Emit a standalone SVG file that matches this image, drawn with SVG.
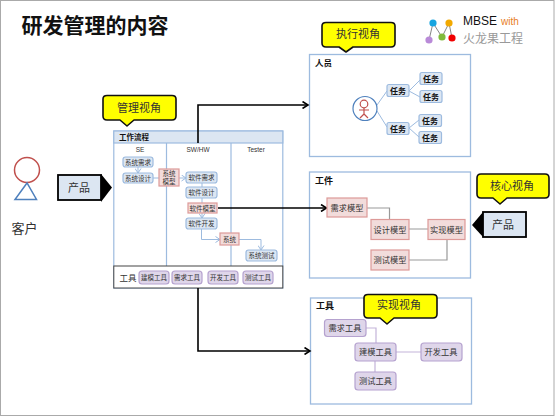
<svg xmlns="http://www.w3.org/2000/svg" width="555" height="417" viewBox="0 0 555 417">
<style>
text{font-family:"Liberation Sans","Noto Sans CJK SC",sans-serif;text-anchor:middle;fill:#333}
.l{text-anchor:start}
.panel{fill:#fff;stroke:#9dbbdf;stroke-width:1.3}
.call{fill:#ffff00;stroke:#111;stroke-width:1.6;stroke-linejoin:round}
.callt{font-size:11px}
.blue{fill:#dce6f2;stroke:#9dbbdf;stroke-width:1.2}
.red{fill:#f2dcdb;stroke:#dd9a98;stroke-width:1.2}
.pur{fill:#dfd6ea;stroke:#b5a2cf;stroke-width:1.2}
.s7{font-size:6.500px}
.s8{font-size:8px;font-weight:bold;fill:#111}
.s9{font-size:8.200px}
.prod{fill:#dce6f2;stroke:#000;stroke-width:1.8}
.big{stroke:#000;stroke-width:1.6;fill:none}
.thin{stroke:#9dbbdf;stroke-width:1;fill:none}
.gray{stroke:#999;stroke-width:1.2;fill:none}
.lil{stroke:#c3b4d9;stroke-width:1.2;fill:none}
</style>
<defs>
<marker id="a" markerWidth="8" markerHeight="8" refX="6.500" refY="4" orient="auto" markerUnits="userSpaceOnUse"><path d="M1 0.500L6.500 4L1 7.500" fill="none" stroke="#000" stroke-width="1.6"/></marker>
<marker id="t" markerWidth="7" markerHeight="7" refX="5" refY="3.500" orient="auto" markerUnits="userSpaceOnUse"><path d="M0.500 0.500L5 3.500L0.500 6.500" fill="none" stroke="#9dbbdf" stroke-width="1"/></marker>
</defs>
<rect x="0.500" y="0.500" width="553.500" height="415" fill="#fff" stroke="#aaa"/>
<g id="title"><text x="95" y="33" font-size="21" font-weight="bold" style="fill:#111">研发管理的内容</text></g>
<g id="logo">
<g stroke="#666" stroke-width="0.8"><path d="M433 23L429 40M433 23L442 37M449 23L442 37M449 23L452 38"/></g>
<circle cx="433" cy="23" r="3.600" fill="#18a5e0"/><circle cx="449" cy="23" r="3.600" fill="#f2a900"/><circle cx="429" cy="40" r="3.600" fill="#b98ad8"/><circle cx="442" cy="37" r="3.600" fill="#80bb3c"/><circle cx="452" cy="38" r="3.600" fill="#f00000"/>
<text class="l" x="463" y="25" font-size="12" style="fill:#111">MBSE</text>
<text class="l" x="501" y="25" font-size="10" style="fill:#e87d1e">with</text>
<text class="l" x="463" y="43" font-size="12" style="fill:#999">火龙果工程</text>
</g>
<g id="customer">
<circle cx="27" cy="170" r="12.500" fill="#fff" stroke="#c0504d" stroke-width="1.500"/>
<path d="M27 183L15 199.500H36.500Z" fill="#fff" stroke="#4f81bd" stroke-width="1.500"/>
<text x="24.500" y="233" font-size="13">客户</text>
</g>
<g id="product-left">
<rect class="prod" x="58" y="175" width="43" height="25"/><path d="M101 174L112 187.500L101 202Z" fill="#000"/>
<text x="79" y="192" font-size="11">产品</text>
</g>
<g id="product-right">
<path d="M483 212L472 225L483 237Z" fill="#000"/><rect class="prod" x="483" y="212" width="43" height="25"/>
<text x="503" y="229" font-size="11">产品</text>
</g>
<g id="panel-people">
<rect class="panel" x="309.500" y="54.500" width="161" height="102"/>
<text class="s8" x="323.500" y="66" style="font-size:8.500px">人员</text>
</g>
<g id="panel-artifact">
<rect class="panel" x="309.500" y="172" width="161" height="106"/>
<text x="324" y="184" font-size="9" font-weight="bold" style="fill:#111">工件</text>
</g>
<g id="panel-tool">
<rect class="panel" x="310.500" y="298" width="161" height="106"/>
<text x="325" y="309" font-size="9" font-weight="bold" style="fill:#111">工具</text>
</g>
<g id="swimlane">
<rect x="113.800" y="131" width="169" height="157" fill="#fff" stroke="#9dbbdf" stroke-width="1.200"/>
<rect x="113.800" y="131" width="169" height="12" fill="#dce6f2" stroke="#9dbbdf" stroke-width="1.200"/>
<path d="M166.500 143V266M231 143V266" stroke="#9dbbdf" stroke-width="1.200"/>
<rect x="113.800" y="266" width="169" height="22" fill="#fff" stroke="#444" stroke-width="1"/>
<text x="134" y="140" font-size="7.500" font-weight="bold" style="fill:#111">工作流程</text>
<text x="140" y="152" font-size="6.500">SE</text><text x="198" y="152" font-size="6.500">SW/HW</text><text x="256" y="152" font-size="6.500">Tester</text>
<text x="128" y="281" font-size="8.500">工具</text>
</g>
<g id="connectors">
<path class="big" d="M198 143V105H308" marker-end="url(#a)"/>
<path class="big" d="M218 208H326.500" marker-end="url(#a)"/>
<path class="big" d="M198 288V351H310" marker-end="url(#a)"/>
<path class="thin" d="M138 167V173" marker-end="url(#t)"/>
<path class="thin" d="M153 178H159"/>
<path class="thin" d="M179 178H186" marker-end="url(#t)"/>
<path class="thin" d="M202 183V187M202 198V203"/>
<path class="thin" d="M202 213V218" marker-end="url(#t)"/>
<path class="thin" d="M201.500 229V239.500H220" marker-end="url(#t)"/>
<path class="thin" d="M239 239.500H261V250" marker-end="url(#t)"/>
<path class="thin" d="M377 105L387 91M377 111L387 127M409 91L420 80M409 91L420 97M409 128L419 120M409 128L419 137"/>
<path class="gray" d="M367 208H389.500V219M409 229H428M447 239V260H409"/>
<path class="lil" d="M366 328H376V343M396 352H421M375 361V372"/>
</g>
<g id="n1"><rect class="blue" x="123" y="157" width="30" height="10" rx="2.500"/><text class="s7" x="138" y="164.500">系统需求</text></g>
<g id="n2"><rect class="blue" x="123" y="173" width="30" height="10" rx="2.500"/><text class="s7" x="138" y="180.500">系统设计</text></g>
<g id="n3"><rect class="red" x="159" y="169" width="20" height="17"/><text class="s7" x="169" y="176">系统</text><text class="s7" x="169" y="184">模型</text></g>
<g id="n4"><rect class="blue" x="186" y="172" width="31" height="11" rx="2.500"/><text class="s7" x="201.500" y="180">软件需求</text></g>
<g id="n5"><rect class="blue" x="186" y="187" width="31" height="11" rx="2.500"/><text class="s7" x="201.500" y="195">软件设计</text></g>
<g id="n6"><rect class="red" x="188" y="203" width="29" height="10"/><text class="s7" x="202.500" y="210.500">软件模型</text></g>
<g id="n7"><rect class="blue" x="186" y="218" width="31" height="11" rx="2.500"/><text class="s7" x="201.500" y="226">软件开发</text></g>
<g id="n8"><rect class="red" x="220" y="233" width="19" height="12"/><text class="s7" x="229.500" y="241.500">系统</text></g>
<g id="n9"><rect class="blue" x="246" y="250" width="31" height="11" rx="2.500"/><text class="s7" x="261.500" y="258">系统测试</text></g>
<g id="t1"><rect class="pur" x="139" y="271" width="30" height="13" rx="3"/><text class="s7" x="154" y="280">建模工具</text></g>
<g id="t2"><rect class="pur" x="172" y="271" width="30" height="13" rx="3"/><text class="s7" x="187" y="280">需求工具</text></g>
<g id="t3"><rect class="pur" x="208" y="271" width="30" height="13" rx="3"/><text class="s7" x="223" y="280">开发工具</text></g>
<g id="t4"><rect class="pur" x="243" y="271" width="30" height="13" rx="3"/><text class="s7" x="258" y="280">测试工具</text></g>
<g id="person"><circle cx="365" cy="108.500" r="12" fill="#fff" stroke="#4f81bd" stroke-width="1.200"/>
<g stroke="#c0504d" stroke-width="1.200" fill="none"><circle cx="364" cy="104" r="3.800"/><path d="M364 108V114M359 110H369M364 114L360 118M364 114L368 118"/></g></g>
<g id="task1"><rect class="blue" x="387" y="84.500" width="22" height="12" rx="2"/><text class="s8" x="398" y="93.500">任务</text></g>
<g id="task2"><rect class="blue" x="387" y="122.500" width="22" height="12" rx="2"/><text class="s8" x="398" y="131.500">任务</text></g>
<g id="task3"><rect class="blue" x="420" y="72.500" width="22" height="12" rx="2"/><text class="s8" x="431" y="81.500">任务</text></g>
<g id="task4"><rect class="blue" x="420" y="90.500" width="22" height="12" rx="2"/><text class="s8" x="431" y="99.500">任务</text></g>
<g id="task5"><rect class="blue" x="419" y="114.500" width="22.500" height="12" rx="2"/><text class="s8" x="430" y="123.500">任务</text></g>
<g id="task6"><rect class="blue" x="419" y="131.500" width="22.500" height="12" rx="2"/><text class="s8" x="430" y="140.500">任务</text></g>
<g id="m1"><rect class="red" x="327" y="198" width="40" height="19"/><text class="s9" x="347" y="211">需求模型</text></g>
<g id="m2"><rect class="red" x="371" y="219.500" width="38" height="20"/><text class="s9" x="390" y="232.500">设计模型</text></g>
<g id="m3"><rect class="red" x="428" y="219.500" width="37" height="20"/><text class="s9" x="446.500" y="232.500">实现模型</text></g>
<g id="m4"><rect class="red" x="371" y="250" width="38" height="20"/><text class="s9" x="390" y="263">测试模型</text></g>
<g id="w1"><rect class="pur" x="324.500" y="319.500" width="41.500" height="17" rx="3"/><text class="s9" x="345" y="331">需求工具</text></g>
<g id="w2"><rect class="pur" x="355" y="343" width="41" height="18" rx="3"/><text class="s9" x="375.500" y="355">建模工具</text></g>
<g id="w3"><rect class="pur" x="421" y="343" width="41" height="18" rx="3"/><text class="s9" x="441" y="355">开发工具</text></g>
<g id="w4"><rect class="pur" x="355" y="372" width="41" height="18" rx="3"/><text class="s9" x="375.500" y="384">测试工具</text></g>
<g id="callout-manage"><path class="call" d="M107 95.500H172Q176 95.500 176 99V116Q176 120 172 120H134L127 126L120 120H107Q103 120 103 116V99Q103 95.500 107 95.500Z"/><text class="callt" x="139" y="112">管理视角</text></g>
<g id="callout-exec"><path class="call" d="M326 22.500H391Q395 22.500 395 26V43Q395 47 391 47H353L346 52L339 47H326Q322 47 322 43V26Q322 22.500 326 22.500Z"/><text class="callt" x="358" y="38">执行视角</text></g>
<g id="callout-core"><path class="call" d="M481 174H545Q549 174 549 178V194Q549 198 545 198H507L500 204L493 198H481Q477 198 477 194V178Q477 174 481 174Z"/><text class="callt" x="512" y="190">核心视角</text></g>
<g id="callout-impl"><path class="call" d="M368 294.500H433Q437 294.500 437 298V314Q437 318 433 318H394L387 324L380 318H368Q364 318 364 314V298Q364 294.500 368 294.500Z"/><text class="callt" x="399" y="309">实现视角</text></g>
</svg>
